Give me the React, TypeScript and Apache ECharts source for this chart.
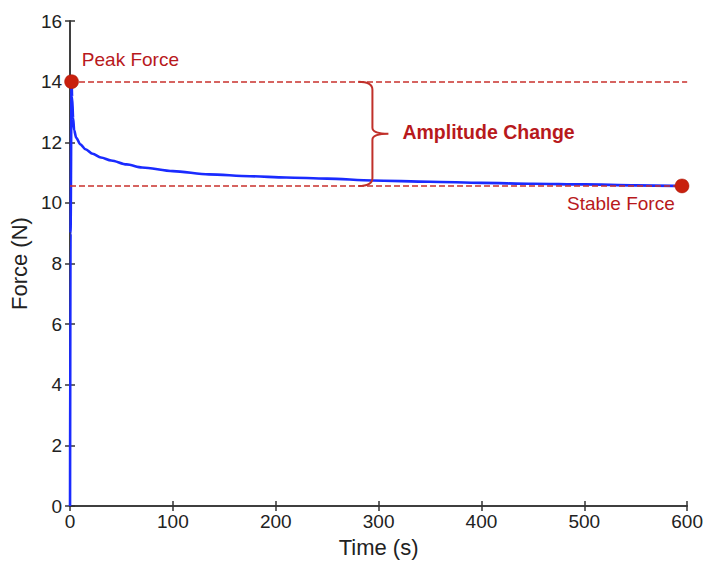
import React, { useEffect, useRef } from "react";
import * as echarts from "echarts";

const timeS = [0, 0.5, 1.5, 2, 3, 4, 6, 10, 15, 22, 30, 40, 55, 70, 100, 135, 175, 210, 250, 294, 350, 400, 450, 500, 550, 595];
const forceN = [0, 9, 14.0, 13.5, 12.8, 12.4, 12.15, 11.93, 11.77, 11.62, 11.5, 11.4, 11.27, 11.17, 11.05, 10.94, 10.88, 10.84, 10.8, 10.74, 10.7, 10.66, 10.63, 10.61, 10.58, 10.56];
const peakPoint = [1.5, 14.0];
const stablePoint = [595, 10.56];
const bracePos = [294, 14.0, 10.56];
const xTicks = [0, 100, 200, 300, 400, 500, 600];
const yTicks = [0, 2, 4, 6, 8, 10, 12, 14, 16];

const RED = "#b8191c";
const DASH = "#c9302c";
const FONT = "Liberation Sans, Arial, Helvetica, sans-serif";

export default function App() {
  const ref = useRef<HTMLDivElement>(null);
  useEffect(() => {
    if (!ref.current) return;
    const chart = echarts.init(ref.current, undefined, { renderer: "svg" });
    const axisLine = { show: true, lineStyle: { color: "#333", width: 1.5 } };
    const axisTick = { show: true, inside: true, length: 5, lineStyle: { color: "#333", width: 1.5 } };
    chart.setOption({
      animation: false,
      textStyle: { fontFamily: FONT },
      grid: { left: 70, right: 17, top: 21, bottom: 53, containLabel: false },
      xAxis: [
        {
          type: "value", min: 0, max: 600, interval: 100,
          name: "Time (s)", nameLocation: "middle", nameGap: 26,
          nameTextStyle: { fontSize: 22, color: "#222", fontFamily: FONT },
          axisLine, axisTick, splitLine: { show: false },
          axisLabel: { fontSize: 19, color: "#222", margin: 6, fontFamily: FONT,
            formatter: (v: number) => (xTicks.includes(v) ? String(v) : "") },
        },
        {
          type: "value", min: 0, max: 600, interval: 100, position: "top",
          axisLine, axisTick, splitLine: { show: false }, axisLabel: { show: false },
        },
      ],
      yAxis: [
        {
          type: "value", min: 0, max: 16, interval: 2,
          name: "Force (N)", nameLocation: "middle", nameGap: 36,
          nameTextStyle: { fontSize: 22, color: "#222", fontFamily: FONT },
          axisLine, axisTick, splitLine: { show: false },
          axisLabel: { fontSize: 19, color: "#222", margin: 8, fontFamily: FONT,
            formatter: (v: number) => (yTicks.includes(v) ? String(v) : "") },
        },
        {
          type: "value", min: 0, max: 16, interval: 2, position: "right",
          axisLine, axisTick, splitLine: { show: false }, axisLabel: { show: false },
        },
      ],
      series: [
        {
          type: "line",
          data: timeS.map((t, i) => [t, forceN[i]]),
          showSymbol: false,
          smooth: 0.3,
          smoothMonotone: "x",
          lineStyle: { color: "#1a2bff", width: 2.6 },
          z: 3,
          markLine: {
            silent: true,
            symbol: "none",
            label: { show: false },
            lineStyle: { color: DASH, type: [6, 3], width: 1.6 },
            data: [{ yAxis: peakPoint[1] }, { yAxis: stablePoint[1] }],
          },
        },
        {
          type: "scatter",
          symbolSize: 14,
          itemStyle: { color: "#c8200e", borderColor: "#a81808", borderWidth: 0.5, opacity: 1 },
          z: 5,
          data: [
            {
              value: peakPoint,
              label: { show: true, position: "right", formatter: "Peak Force", color: RED,
                fontSize: 19, fontFamily: FONT, offset: [-2, -22] },
            },
            {
              value: stablePoint,
              label: { show: true, position: "left", formatter: "Stable Force", color: RED,
                fontSize: 19, fontFamily: FONT, offset: [5, 18] },
            },
          ],
        },
        {
          type: "custom",
          coordinateSystem: "cartesian2d",
          data: [bracePos],
          encode: { x: 0, y: 1 },
          z: 6,
          renderItem: (params: any, api: any) => {
            const top = api.coord([api.value(0), api.value(1)]);
            const bot = api.coord([api.value(0), api.value(2)]);
            const x = top[0];
            const yt = top[1];
            const yb = bot[1];
            const ym = (yt + yb) / 2;
            const d = `M ${x - 14} ${yt} Q ${x} ${yt} ${x} ${yt + 8} L ${x} ${ym - 6} Q ${x} ${ym} ${x + 16} ${ym} ` +
              `Q ${x} ${ym} ${x} ${ym + 6} L ${x} ${yb - 8} Q ${x} ${yb} ${x - 14} ${yb}`;
            return {
              type: "group",
              children: [
                { type: "path", shape: { pathData: d }, style: { fill: "none", stroke: "#c0302a", lineWidth: 2 } },
                {
                  type: "text",
                  style: { x: x + 30, y: ym - 2, text: "Amplitude Change", fill: RED, fontSize: 19.5,
                    fontWeight: "bold", fontFamily: FONT, verticalAlign: "middle", align: "left" },
                },
              ],
            };
          },
        },
      ],
    });
    return () => chart.dispose();
  }, []);
  return <div ref={ref} style={{ width: 706, height: 563, position: "absolute", left: 0, top: 0 }} />;
}
